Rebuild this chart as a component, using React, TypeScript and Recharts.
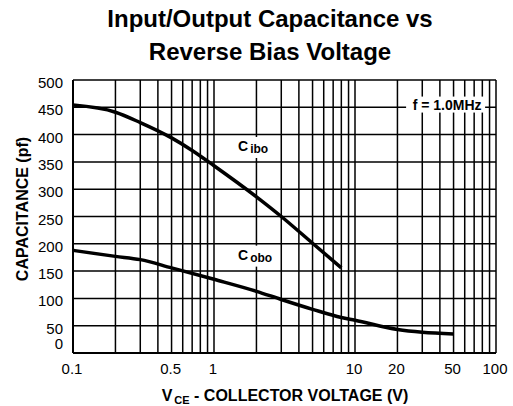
import React from 'react';
import {
  CartesianGrid,
  Line,
  LineChart,
  ReferenceDot,
  XAxis,
  YAxis,
} from 'recharts';

// log grid: every 1..9 step of each decade
const xGrid = [
  0.1, 0.2, 0.3, 0.4, 0.5, 0.6, 0.7, 0.8, 0.9,
  1, 2, 3, 4, 5, 6, 7, 8, 9,
  10, 20, 30, 40, 50, 60, 70, 80, 90, 100,
];
const xLabeled = [0.1, 0.5, 1, 10, 20, 50, 100];
const yTicks = [0, 50, 100, 150, 200, 250, 300, 350, 400, 450, 500];

// C_ibo (input capacitance, pF)
const ciboVoltage = [0.1, 0.2, 0.3, 0.5, 0.7, 1, 2, 3, 5, 8];
const ciboValues = [454, 441, 422, 394, 371, 343, 286, 250, 201, 156];
// C_obo (output capacitance, pF)
const coboVoltage = [0.1, 0.2, 0.3, 0.5, 1, 2, 3, 5, 8, 10, 20, 30, 50];
const coboValues = [188, 177, 171, 156, 135, 113, 98, 80, 65, 60, 43, 38, 35];

const cibo = ciboVoltage.map((v, i) => ({ v, c: ciboValues[i] }));
const cobo = coboVoltage.map((v, i) => ({ v, c: coboValues[i] }));

const FONT = '"Liberation Sans", Arial, sans-serif';

function XTick(props: any) {
  const { x, y, payload } = props;
  if (!xLabeled.includes(payload.value)) return null;
  return (
    <text x={x - 1} y={y + 13} textAnchor="middle" fontSize={15} fontFamily={FONT} fill="#000">
      {payload.value}
    </text>
  );
}

function YTick(props: any) {
  const { x, y, payload } = props;
  return (
    <text
      x={x}
      y={payload.value === 0 ? y - 4 : y + 8}
      textAnchor="end"
      fontSize={15}
      fontFamily={FONT}
      fill="#000"
    >
      {payload.value}
    </text>
  );
}

function CurveLabel(props: any, sub: string) {
  const { viewBox } = props;
  const x = viewBox.x;
  const y = viewBox.y;
  return (
    <g>
      <rect x={x - 2} y={y - 14} width={37} height={21} fill="#fff" />
      <text x={x} y={y} fontFamily={FONT} fontWeight="bold" fill="#000">
        <tspan fontSize={14}>C</tspan>
        <tspan fontSize={12} dx={2} dy={2}>{sub}</tspan>
      </text>
    </g>
  );
}

function FreqLabel(props: any) {
  const { viewBox } = props;
  const cx = viewBox.x;
  const cy = viewBox.y;
  return (
    <g>
      <rect x={cx - 41} y={cy - 8} width={79} height={16} fill="#fff" />
      <text x={cx} y={cy + 5} textAnchor="middle" fontSize={14} fontWeight="bold" fontFamily={FONT} fill="#000">
        f = 1.0MHz
      </text>
    </g>
  );
}

export default function App() {
  return (
    <div style={{ position: 'absolute', left: 0, top: 0, width: 513, height: 406, background: '#fff' }}>
      <LineChart
        width={513}
        height={406}
        margin={{ top: 80, right: 17, bottom: 33, left: 28 }}
      >
        <CartesianGrid stroke="#000" strokeWidth={1.5} />
        <XAxis
          dataKey="v"
          type="number"
          scale="log"
          domain={[0.1, 100]}
          ticks={xGrid}
          interval={0}
          allowDataOverflow
          tick={<XTick />}
          tickLine={false}
          axisLine={{ stroke: '#000', strokeWidth: 2 }}
          height={20}
        />
        <YAxis
          type="number"
          domain={[0, 500]}
          ticks={yTicks}
          interval={0}
          tick={<YTick />}
          tickLine={false}
          tickMargin={4}
          axisLine={{ stroke: '#000', strokeWidth: 2 }}
          width={45}
        />
        <Line
          data={cibo}
          dataKey="c"
          type="monotone"
          stroke="#000"
          strokeWidth={3.5}
          dot={false}
          isAnimationActive={false}
        />
        <Line
          data={cobo}
          dataKey="c"
          type="monotone"
          stroke="#000"
          strokeWidth={3.5}
          dot={false}
          isAnimationActive={false}
        />
        <ReferenceDot x={1.48} y={370} r={0} label={(p: any) => CurveLabel(p, 'ibo')} />
        <ReferenceDot x={1.48} y={171} r={0} label={(p: any) => CurveLabel(p, 'obo')} />
        <ReferenceDot x={45} y={455} r={0} label={FreqLabel} />
      </LineChart>
      <svg
        width={513}
        height={406}
        style={{ position: 'absolute', left: 0, top: 0, pointerEvents: 'none' }}
      >
        <text x={270} y={27} textAnchor="middle" fontSize={24} fontWeight="bold" fontFamily={FONT}>
          Input/Output Capacitance vs
        </text>
        <text x={270} y={60} textAnchor="middle" fontSize={24} fontWeight="bold" fontFamily={FONT}>
          Reverse Bias Voltage
        </text>
        <text
          x={0}
          y={0}
          transform="translate(28, 209) rotate(-90)"
          textAnchor="middle"
          fontSize={16}
          fontWeight="bold"
          fontFamily={FONT}
        >
          CAPACITANCE (pf)
        </text>
        <text x={285} y={401} textAnchor="middle" fontWeight="bold" fontFamily={FONT} fontSize={16}>
          <tspan>V</tspan>
          <tspan fontSize={11} dy={3} dx={2}>CE</tspan>
          <tspan dy={-3}> - COLLECTOR VOLTAGE (V)</tspan>
        </text>
      </svg>
    </div>
  );
}
